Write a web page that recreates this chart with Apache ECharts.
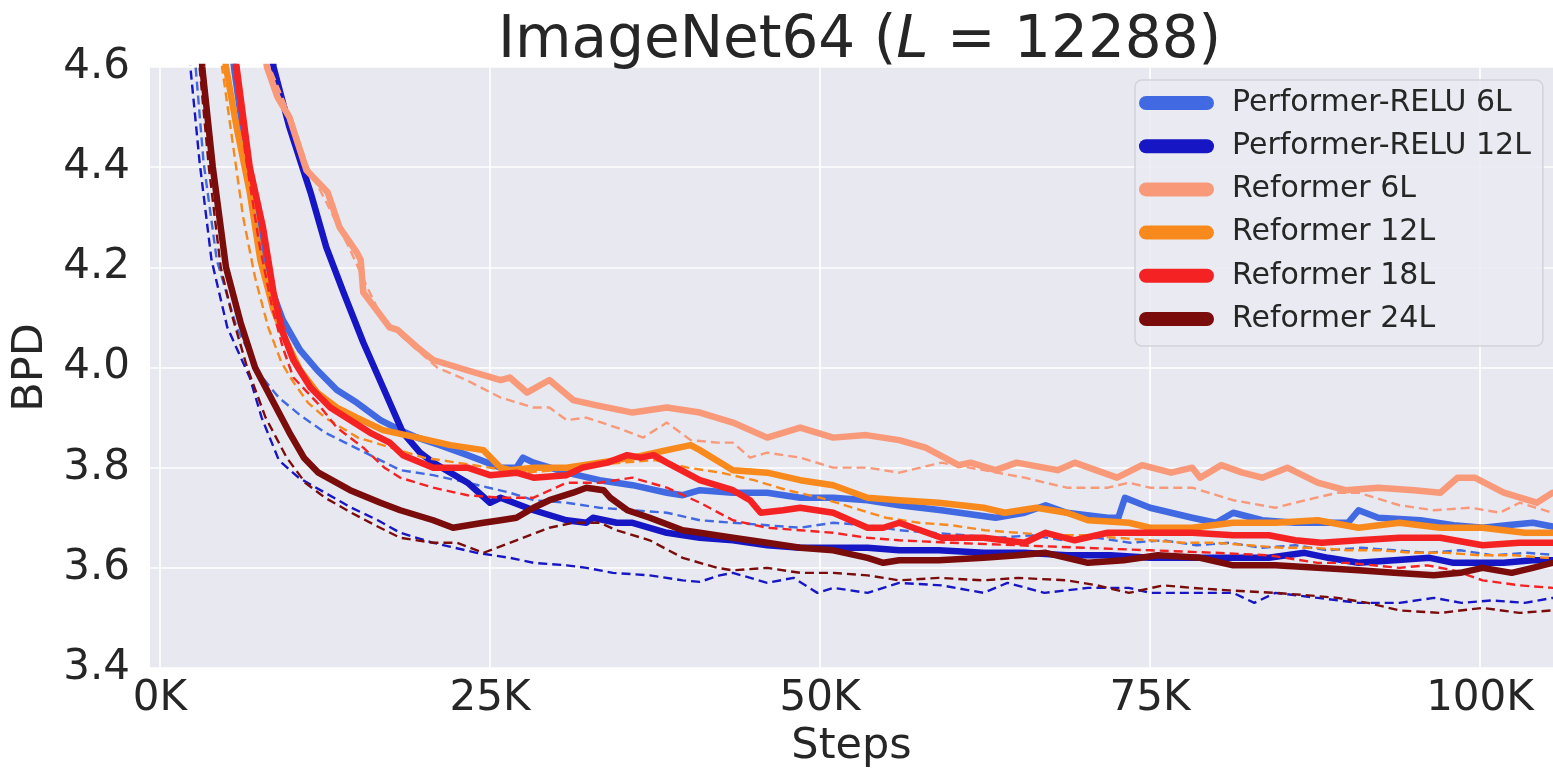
<!DOCTYPE html>
<html>
<head>
<meta charset="utf-8">
<script src="https://cdn.jsdelivr.net/npm/echarts@6/dist/echarts.min.js"></script>
<style>
  html, body { margin: 0; padding: 0; background: #ffffff; }
  #chart { width: 1553px; height: 777px; }
</style>
</head>
<body>
<div id="chart"></div>
<script>
// Training curves: [step in thousands, bits per dimension]
// Solid = thick curve, dash = thin dashed companion curve of the same model.

const modelNames = [
  'Performer-RELU 6L', 'Performer-RELU 12L', 'Reformer 6L',
  'Reformer 12L', 'Reformer 18L', 'Reformer 24L'
];
const modelColors = ['#4169e1', '#1616c4', '#f8997a', '#f8891c', '#f42222', '#7a0c0c'];

const xTickSteps = [0, 25000, 50000, 75000, 100000];

const perf6Solid = [[5.0,4.75],[5.6,4.6],[6.4,4.45],[7.2,4.3],[8.1,4.18],[9.3,4.095],[10.6,4.035],[11.9,3.995],[13.4,3.955],[14.9,3.93],[16.7,3.895],[18.2,3.875],[19.5,3.86],[21.2,3.845],[23.3,3.825],[25.8,3.80],[27.0,3.80],[27.5,3.82],[28.3,3.81],[30.8,3.79],[33.3,3.775],[35.8,3.765],[38.4,3.75],[39.6,3.745],[40.9,3.755],[43.4,3.75],[46.0,3.75],[48.5,3.74],[51.0,3.74],[53.6,3.735],[56.0,3.725],[59.2,3.715],[63.3,3.70],[65.5,3.71],[67.1,3.725],[68.7,3.71],[71.8,3.70],[72.6,3.70],[73.1,3.74],[75.0,3.72],[78.2,3.70],[80.0,3.69],[81.3,3.71],[83.5,3.695],[86.0,3.69],[88.5,3.69],[90.0,3.69],[90.8,3.715],[92.3,3.70],[95.5,3.695],[98.0,3.685],[100.2,3.68],[102.0,3.685],[104.0,3.69],[106.0,3.68]];
const perf6Dash = [[2.2,4.85],[2.7,4.6],[3.3,4.41],[4.3,4.215],[5.8,4.08],[7.6,3.985],[9.0,3.94],[10.6,3.905],[12.5,3.87],[14.4,3.845],[16.3,3.82],[18.2,3.795],[20.7,3.785],[23.3,3.77],[26.5,3.75],[28.3,3.735],[30.8,3.73],[33.3,3.72],[35.8,3.715],[38.4,3.71],[40.9,3.695],[43.4,3.69],[46.0,3.685],[48.5,3.68],[51.0,3.69],[53.6,3.685],[56.0,3.675],[58.5,3.67],[61.0,3.665],[63.5,3.66],[66.0,3.665],[68.5,3.655],[71.0,3.66],[73.5,3.65],[76.0,3.655],[78.5,3.645],[81.0,3.65],[83.5,3.64],[86.0,3.645],[88.5,3.635],[91.0,3.64],[93.5,3.635],[96.0,3.63],[98.5,3.635],[101.0,3.625],[103.5,3.63],[106.0,3.625]];

const perf12Solid = [[7.8,4.8],[8.6,4.6],[9.8,4.48],[11.4,4.35],[12.6,4.24],[13.9,4.15],[15.4,4.05],[16.9,3.96],[18.4,3.87],[19.7,3.83],[20.7,3.81],[23.3,3.77],[25.0,3.73],[25.8,3.74],[28.3,3.715],[30.8,3.695],[32.3,3.69],[32.8,3.70],[34.6,3.69],[35.8,3.69],[38.4,3.67],[40.9,3.66],[43.4,3.655],[46.0,3.645],[48.5,3.64],[51.0,3.64],[53.6,3.64],[56.0,3.635],[59.0,3.635],[62.4,3.63],[65.5,3.63],[68.7,3.625],[72.0,3.625],[75.0,3.62],[78.0,3.62],[81.3,3.62],[84.0,3.62],[86.7,3.63],[88.5,3.62],[90.8,3.61],[93.5,3.615],[96.2,3.62],[98.0,3.61],[100.0,3.61],[101.8,3.61],[104.0,3.615],[106.0,3.615]];
const perf12Dash = [[1.9,4.9],[2.3,4.6],[3.0,4.41],[3.9,4.215],[5.1,4.08],[6.8,3.98],[7.7,3.9],[9.0,3.815],[10.5,3.78],[12.5,3.75],[14.5,3.72],[16.5,3.695],[18.2,3.67],[20.7,3.65],[24.0,3.63],[26.5,3.62],[28.3,3.61],[30.8,3.605],[32.3,3.60],[34.3,3.59],[37.1,3.585],[39.6,3.575],[40.9,3.572],[42.4,3.585],[43.4,3.59],[46.0,3.57],[48.0,3.58],[49.8,3.55],[51.0,3.56],[53.6,3.55],[56.0,3.57],[59.2,3.565],[62.4,3.55],[64.2,3.57],[67.0,3.55],[70.3,3.56],[73.4,3.56],[75.0,3.55],[78.2,3.55],[81.3,3.55],[82.9,3.53],[84.5,3.55],[87.7,3.54],[90.8,3.53],[93.9,3.53],[96.5,3.54],[98.6,3.53],[100.9,3.535],[103.4,3.53],[105.5,3.54],[106.5,3.535]];

const ref6Solid = [[7.6,4.7],[8.1,4.6],[8.9,4.54],[9.8,4.5],[11.1,4.394],[12.7,4.35],[13.6,4.28],[14.9,4.23],[15.2,4.215],[15.4,4.15],[17.4,4.08],[18.0,4.075],[19.5,4.04],[20.7,4.015],[23.2,3.995],[25.8,3.975],[26.5,3.98],[27.8,3.95],[29.5,3.975],[31.3,3.935],[33.0,3.925],[35.8,3.91],[38.4,3.92],[40.9,3.91],[43.4,3.89],[46.0,3.86],[48.5,3.88],[51.0,3.86],[53.5,3.865],[56.0,3.855],[58.0,3.84],[60.5,3.805],[61.4,3.81],[63.3,3.795],[64.9,3.81],[68.0,3.795],[69.3,3.81],[72.5,3.78],[74.4,3.805],[76.6,3.79],[78.2,3.80],[78.8,3.78],[80.4,3.805],[82.0,3.79],[83.5,3.78],[85.4,3.80],[87.7,3.77],[89.8,3.755],[92.3,3.76],[95.0,3.755],[97.0,3.75],[98.3,3.78],[99.6,3.78],[101.8,3.75],[104.3,3.73],[105.5,3.75],[106.5,3.75]];
const ref6Dash = [[7.8,4.7],[8.3,4.6],[9.9,4.5],[11.2,4.4],[12.6,4.33],[14.4,4.235],[15.7,4.16],[16.9,4.095],[18.4,4.06],[21.0,4.0],[23.2,3.975],[25.8,3.94],[28.3,3.92],[29.5,3.92],[30.8,3.895],[32.3,3.90],[34.6,3.88],[36.6,3.86],[38.4,3.89],[40.2,3.855],[42.2,3.85],[43.4,3.85],[44.7,3.82],[46.0,3.83],[48.5,3.82],[51.0,3.80],[53.6,3.80],[56.0,3.79],[59.2,3.81],[62.4,3.795],[65.5,3.78],[68.7,3.76],[71.8,3.76],[73.4,3.77],[75.0,3.76],[78.2,3.76],[81.3,3.735],[84.5,3.72],[86.0,3.73],[89.2,3.75],[90.8,3.75],[93.9,3.725],[96.5,3.715],[99.3,3.72],[101.5,3.71],[103.0,3.73],[105.5,3.71],[106.5,3.71]];

const ref12Solid = [[4.3,4.75],[5.0,4.6],[5.8,4.48],[6.8,4.35],[7.6,4.215],[8.6,4.115],[9.6,4.05],[10.6,3.995],[11.9,3.95],[13.4,3.92],[14.9,3.90],[16.9,3.875],[19.5,3.86],[22.0,3.845],[24.5,3.835],[25.8,3.80],[26.5,3.795],[28.3,3.80],[30.8,3.80],[33.3,3.81],[35.8,3.82],[38.4,3.835],[40.2,3.845],[40.9,3.835],[43.4,3.795],[46.0,3.79],[48.5,3.775],[51.0,3.765],[53.6,3.74],[56.0,3.735],[59.0,3.73],[62.4,3.72],[64.0,3.71],[66.4,3.72],[68.7,3.71],[70.3,3.695],[73.4,3.69],[75.0,3.68],[78.2,3.68],[81.3,3.69],[84.5,3.69],[87.7,3.695],[90.8,3.68],[93.9,3.69],[97.0,3.68],[100.2,3.68],[103.4,3.67],[105.5,3.67],[106.5,3.67]];
const ref12Dash = [[4.2,4.8],[4.7,4.6],[5.5,4.45],[6.3,4.3],[7.2,4.18],[8.2,4.08],[9.2,4.01],[10.0,3.975],[11.2,3.93],[12.5,3.9],[15.0,3.86],[17.5,3.84],[20.0,3.82],[22.5,3.81],[25.0,3.80],[27.5,3.79],[30.0,3.795],[32.5,3.805],[35.0,3.81],[37.5,3.815],[40.0,3.80],[42.5,3.79],[45.0,3.775],[47.5,3.755],[50.0,3.74],[52.5,3.72],[55.0,3.70],[57.5,3.69],[60.0,3.685],[62.5,3.675],[65.0,3.67],[67.5,3.665],[70.0,3.665],[72.5,3.66],[75.0,3.655],[77.5,3.65],[80.0,3.65],[82.5,3.645],[85.0,3.64],[87.5,3.64],[90.0,3.635],[92.5,3.635],[95.0,3.63],[97.5,3.63],[100.0,3.625],[102.5,3.625],[105.0,3.62],[106.5,3.62]];

const ref18Solid = [[5.2,4.75],[5.8,4.6],[6.8,4.40],[7.8,4.28],[8.6,4.15],[9.3,4.07],[10.1,4.015],[11.4,3.96],[12.9,3.92],[14.4,3.895],[15.9,3.87],[17.4,3.85],[18.4,3.825],[20.7,3.80],[23.3,3.80],[25.0,3.785],[27.0,3.79],[28.3,3.78],[30.8,3.785],[32.0,3.80],[33.9,3.81],[35.4,3.825],[36.4,3.82],[37.4,3.825],[38.4,3.81],[40.9,3.775],[43.4,3.755],[44.7,3.735],[45.5,3.71],[47.2,3.715],[48.5,3.72],[51.0,3.71],[53.6,3.68],[54.8,3.68],[56.0,3.69],[59.2,3.66],[62.4,3.66],[65.5,3.65],[67.1,3.67],[69.3,3.655],[71.8,3.67],[75.0,3.67],[78.2,3.67],[81.3,3.665],[84.0,3.665],[86.0,3.655],[88.0,3.65],[90.8,3.655],[93.9,3.66],[97.0,3.66],[100.2,3.645],[103.0,3.65],[105.5,3.65],[106.5,3.65]];
const ref18Dash = [[5.0,4.75],[5.6,4.6],[6.5,4.42],[7.5,4.25],[8.5,4.12],[9.3,4.04],[10.1,3.98],[11.9,3.93],[13.4,3.88],[15.4,3.84],[17.0,3.80],[18.2,3.78],[20.7,3.76],[23.3,3.745],[25.8,3.74],[28.3,3.74],[30.8,3.77],[33.3,3.77],[35.8,3.78],[38.4,3.76],[40.9,3.73],[43.4,3.695],[46.0,3.68],[48.5,3.675],[51.0,3.67],[53.6,3.66],[56.0,3.655],[60.0,3.65],[65.0,3.645],[70.0,3.64],[75.0,3.635],[80.0,3.63],[84.0,3.625],[87.7,3.61],[90.0,3.61],[93.9,3.60],[96.0,3.605],[98.0,3.595],[100.2,3.575],[103.0,3.565],[105.5,3.56],[106.5,3.56]];

const ref24Solid = [[2.7,4.85],[3.2,4.6],[4.0,4.4],[5.0,4.2],[6.1,4.09],[7.2,4.0],[8.6,3.93],[9.8,3.87],[10.9,3.82],[12.0,3.79],[14.4,3.755],[16.7,3.73],[18.2,3.715],[20.7,3.695],[22.2,3.68],[24.5,3.69],[25.8,3.695],[27.0,3.70],[28.3,3.72],[29.5,3.735],[31.3,3.75],[32.3,3.76],[33.6,3.755],[34.1,3.74],[35.4,3.715],[37.1,3.70],[39.6,3.675],[40.9,3.67],[43.4,3.66],[46.0,3.65],[48.5,3.64],[51.0,3.635],[53.6,3.62],[54.8,3.61],[56.0,3.615],[59.0,3.615],[62.4,3.62],[65.0,3.625],[67.1,3.63],[70.3,3.61],[73.0,3.615],[75.6,3.625],[78.8,3.62],[81.3,3.605],[84.5,3.605],[87.7,3.60],[90.8,3.595],[93.5,3.59],[96.5,3.585],[98.5,3.59],[100.2,3.60],[102.4,3.59],[104.0,3.60],[105.5,3.61],[106.5,3.61]];
const ref24Dash = [[2.4,4.85],[3.0,4.6],[3.7,4.4],[4.6,4.2],[5.5,4.1],[6.6,4.0],[8.0,3.9],[9.6,3.82],[11.0,3.77],[12.5,3.74],[14.5,3.71],[16.3,3.685],[18.2,3.66],[20.7,3.65],[22.5,3.65],[24.5,3.63],[27.0,3.655],[29.5,3.68],[31.3,3.69],[33.3,3.69],[34.6,3.675],[37.1,3.655],[39.6,3.62],[42.2,3.60],[43.4,3.595],[46.0,3.60],[48.5,3.59],[51.0,3.59],[53.6,3.585],[56.0,3.575],[59.0,3.58],[62.4,3.575],[65.0,3.58],[68.7,3.575],[71.0,3.565],[73.4,3.55],[76.0,3.565],[78.2,3.56],[81.0,3.555],[84.5,3.55],[87.0,3.545],[89.2,3.54],[91.5,3.53],[93.9,3.515],[97.0,3.51],[100.2,3.52],[103.0,3.51],[105.5,3.515],[106.5,3.515]];

const solidCurves = [perf6Solid, perf12Solid, ref6Solid, ref12Solid, ref18Solid, ref24Solid];
const dashCurves = [perf6Dash, perf12Dash, ref6Dash, ref12Dash, ref18Dash, ref24Dash];

const FONT = 'DejaVu Sans';
const INK = '#262626';

const toSteps = pts => pts.map(p => [p[0] * 1000, p[1]]);

const series = [];
modelNames.forEach((name, i) => {
  series.push({
    name: name, type: 'line', data: toSteps(dashCurves[i]),
    symbol: 'none', silent: true, clip: true, z: 2 + i * 2,
    lineStyle: { color: modelColors[i], width: 2.4, type: [9, 5], cap: 'butt', join: 'round' },
    itemStyle: { color: modelColors[i] }
  });
  series.push({
    name: name, type: 'line', data: toSteps(solidCurves[i]),
    symbol: 'none', silent: true, clip: true, z: 3 + i * 2,
    lineStyle: { color: modelColors[i], width: 6.5, cap: 'round', join: 'round' },
    itemStyle: { color: modelColors[i] }
  });
});

const chart = echarts.init(document.getElementById('chart'), null, { renderer: 'canvas' });
chart.setOption({
  animation: false,
  backgroundColor: '#ffffff',
  title: {
    text: '{a|ImageNet64 (}{b|L}{a| = 12288)}',
    left: 493, top: 8,
    textStyle: {
      fontWeight: 'normal',
      rich: {
        a: { fontFamily: FONT, fontSize: 58, color: INK, fontWeight: 'normal' },
        b: { fontFamily: FONT, fontSize: 58, color: INK, fontWeight: 'normal', fontStyle: 'italic' }
      }
    }
  },
  grid: {
    left: 150, top: 67, right: 0, bottom: 109,
    show: true, backgroundColor: '#e8e8f0', borderWidth: 0
  },
  xAxis: {
    type: 'value', min: -758, max: 105530,
    axisLine: { show: false },
    axisTick: { show: false, customValues: xTickSteps },
    axisLabel: {
      customValues: xTickSteps,
      formatter: v => Math.round(v / 1000) + 'K',
      fontFamily: FONT, fontSize: 42, color: INK, margin: 10
    },
    splitLine: { show: true, lineStyle: { color: '#ffffff', width: 1.6 } },
    name: 'Steps', nameLocation: 'middle', nameGap: 57,
    nameTextStyle: { fontFamily: FONT, fontSize: 43, color: INK }
  },
  yAxis: {
    type: 'value', min: 3.4, max: 4.6, interval: 0.2,
    axisLine: { show: false },
    axisTick: { show: false },
    axisLabel: {
      formatter: v => v.toFixed(1),
      fontFamily: FONT, fontSize: 42, color: INK, margin: 20
    },
    splitLine: { show: true, lineStyle: { color: '#ffffff', width: 1.6 } },
    name: 'BPD', nameLocation: 'middle', nameGap: 90, nameRotate: 90,
    nameTextStyle: { fontFamily: FONT, fontSize: 43, color: INK }
  },
  legend: {
    data: modelNames.map((n, i) => ({
      name: n,
      icon: 'path://M7,0 H68 A7,7 0 0 1 68,14 H7 A7,7 0 0 1 7,0 Z',
      itemStyle: { color: modelColors[i], borderWidth: 0 }
    })),
    orient: 'vertical', left: 1135, top: 80,
    itemWidth: 75, itemHeight: 14, itemGap: 13.2,
    padding: [8, 12, 12, 4],
    backgroundColor: 'rgba(234,234,242,0.85)',
    borderColor: '#d2d2da', borderWidth: 1.5, borderRadius: 7,
    selectedMode: false,
    textStyle: { fontFamily: FONT, fontSize: 30, color: INK, lineHeight: 30, padding: [0, 0, 0, 13] }
  },
  series: series
});
</script>
</body>
</html>
